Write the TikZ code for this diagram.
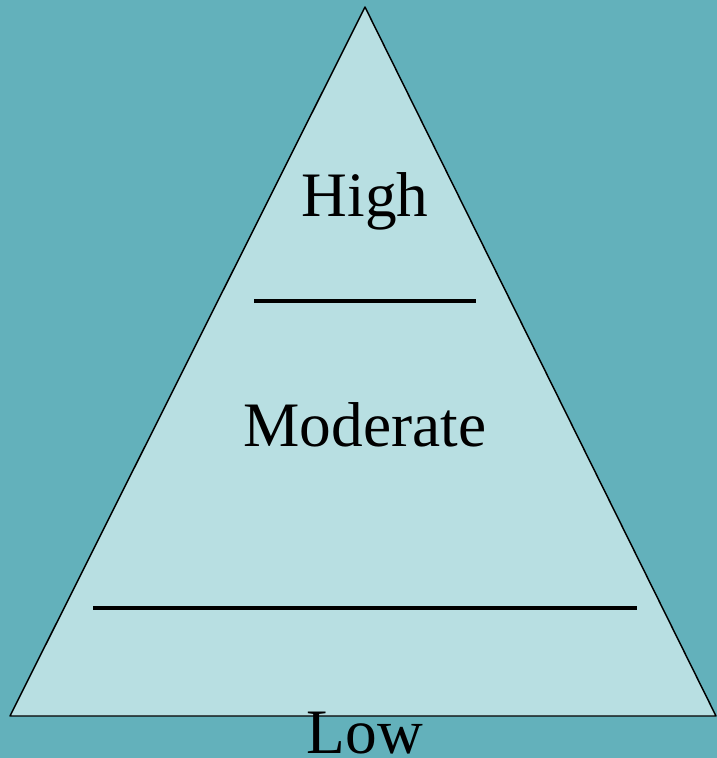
\documentclass[tikz,border=0pt]{standalone}
\usepackage{fontspec}
\setmainfont{Liberation Serif}
\definecolor{bgteal}{HTML}{63B1BB}
\definecolor{paleteal}{HTML}{B8DFE2}
\begin{document}
\begin{tikzpicture}[x=0.75pt, y=-0.75pt, line join=round, font=\fontsize{47.5}{57}\selectfont]
			\fill[bgteal] (0,0) rectangle (717,758);
			\useasboundingbox (0,0) rectangle (717,758);
			\coordinate (apex) at (365,7);
			\coordinate (baseL) at (10,716);
			\coordinate (baseR) at (716,716);
			\draw[fill=paleteal, line width=1.1pt] (apex)--(baseL)--(baseR)--cycle;
			\draw[line width=3pt] (254,301)--(476,301);
			\draw[line width=3pt] (93,608)--(637,608);
			\foreach \t/\y/\n in {High/216/high, Moderate/446/moderate, Low/753/low}{\node[anchor=base, inner sep=0pt] (\n) at (365,\y) {\t};}
		\end{tikzpicture}
\end{document}
